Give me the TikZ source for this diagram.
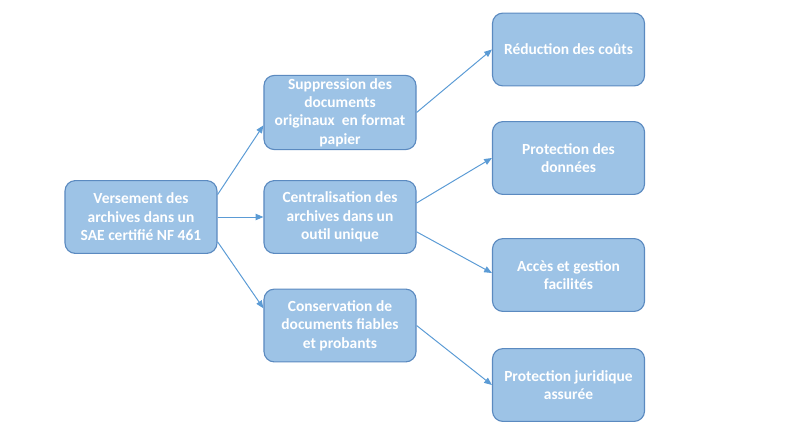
\documentclass[tikz,border=0pt]{standalone}
\usepackage{fontspec}
\setmainfont{Carlito}
\usetikzlibrary{arrows.meta, positioning, calc}
\definecolor{boxfill}{HTML}{9DC3E6}
\definecolor{boxline}{HTML}{5B8AC0}
\definecolor{linkcol}{HTML}{5B9BD5}

\begin{document}
\begin{tikzpicture}[
    x=0.025cm, y=-0.025cm,
    >=Stealth,
    font=\fontsize{11}{13.1}\selectfont\bfseries,
    item/.style={draw=boxline, line width=0.8pt, rounded corners=0.26cm, fill=boxfill, text=white, minimum width=3.8cm, minimum height=1.82cm, align=center, inner sep=2pt},
    link/.style={linkcol, line width=0.7pt, -{Triangle[length=5.5pt, width=4.5pt]}}
]
\useasboundingbox (0,0) rectangle (800,447);

\node[item] (vers) at (141,217) {Versement des\\archives dans un\\SAE certifié NF 461};

\node[item] (supp) at (340,112.5) {Suppression des\\documents\\originaux\ \ en format\\papier};
\node[item] (centr) at (340,217) {Centralisation des\\archives dans un\\outil unique};
\node[item] (cons) at (340,325.5) {Conservation de\\documents fiables\\et probants};

\node[item] (reduc) at (568.5,49.5) {Réduction des coûts};
\node[item] (protd) at (568.5,158) {Protection des\\données};
\node[item] (acces) at (568.5,275) {Accès et gestion\\facilités};
\node[item] (jurid) at (568.5,385) {Protection juridique\\assurée};

\draw[link] ([yshift=0.56cm]vers.east) -- ([yshift=-0.32cm]supp.west);
\draw[link] (vers.east) -- (centr.west);
\draw[link] ([yshift=-0.62cm]vers.east) -- ([yshift=0.43cm]cons.west);

\draw[link] (supp.east) -- (reduc.west);
\draw[link] ([yshift=0.35cm]centr.east) -- (protd.west);
\draw[link] ([yshift=-0.37cm]centr.east) -- ([yshift=0.05cm]acces.west);
\draw[link] (cons.east) -- (jurid.west);

\end{tikzpicture}
\end{document}
